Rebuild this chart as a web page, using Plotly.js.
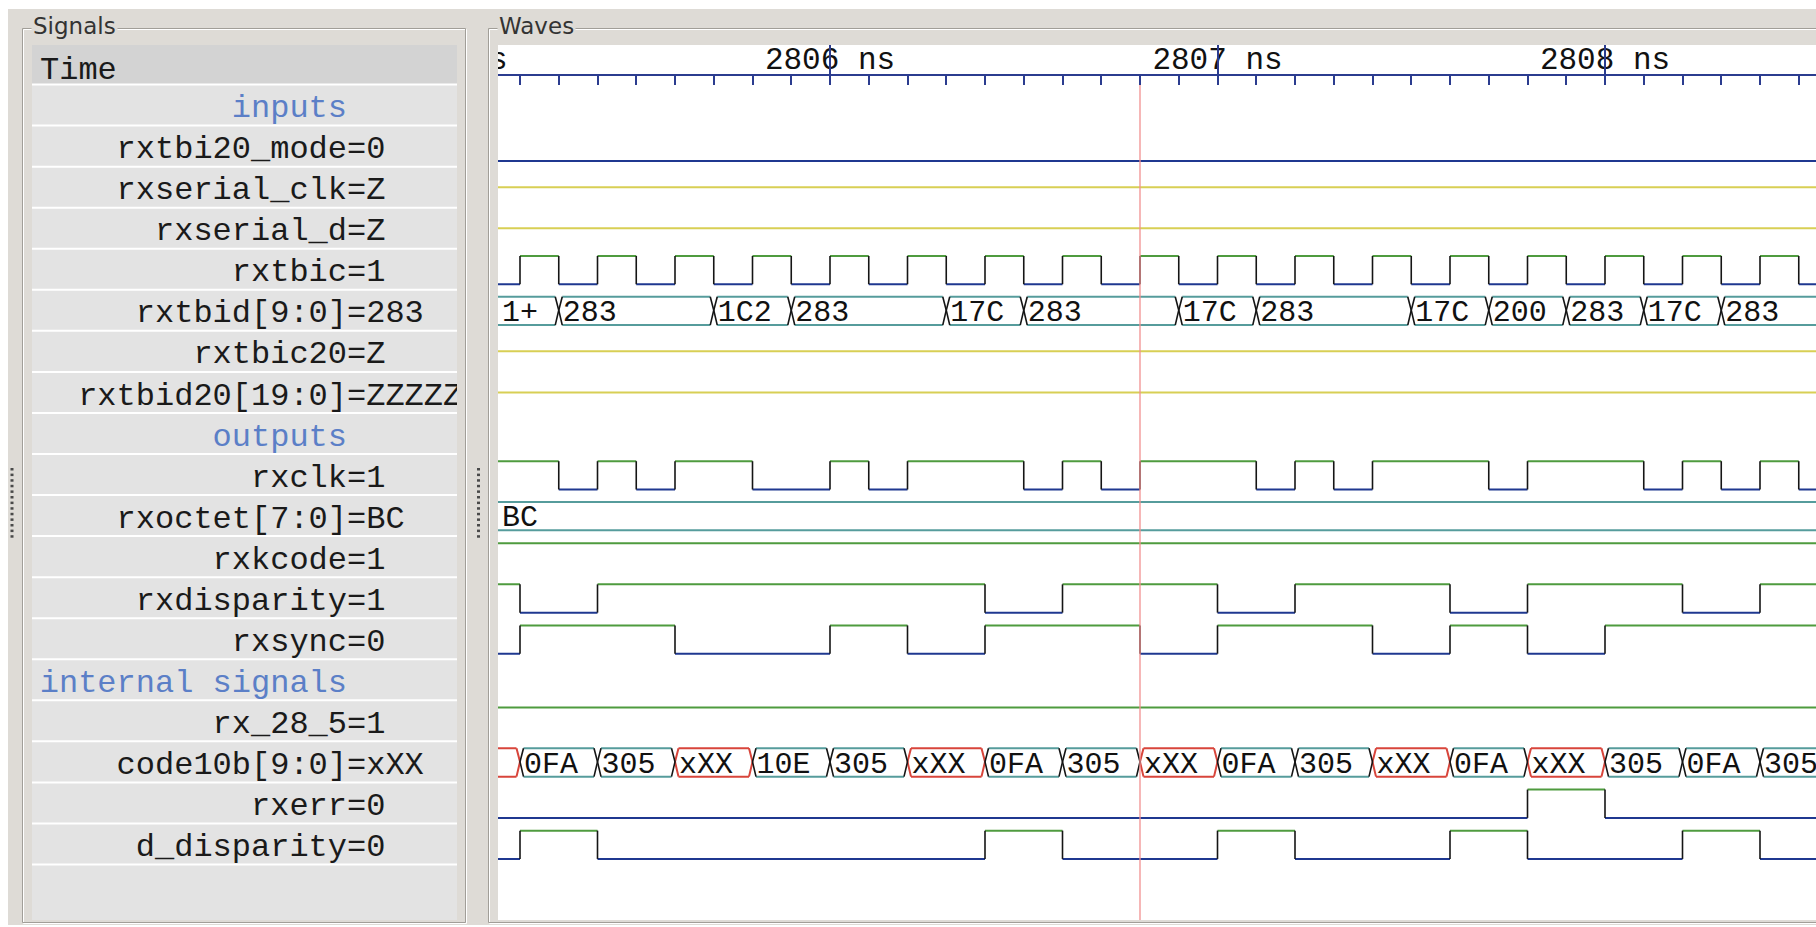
<!DOCTYPE html>
<html>
<head>
<meta charset="utf-8">
<script src="https://cdn.plot.ly/plotly-3.0.1.min.js"></script>
<style>
html,body{margin:0;padding:0;background:#dedbd6;overflow:hidden;}
#chart{width:1816px;height:927px;}
</style>
</head>
<body>
<div id="chart"></div>
<script>
// ================= DATA =================
const signalNames = ["inputs","rxtbi20_mode","rxserial_clk","rxserial_d","rxtbic","rxtbid[9:0]","rxtbic20","rxtbid20[19:0]",
  "outputs","rxclk","rxoctet[7:0]","rxkcode","rxdisparity","rxsync",
  "internal signals","rx_28_5","code10b[9:0]","rxerr","d_disparity"];
// value at the cursor (null = group header row)
const signalValues = [null,"0","Z","Z","1","283","Z","ZZZZZ",
  null,"1","BC","1","1","0",
  null,"1","xXX","0","0"];
const headerLabel = "Time";
const panelTitles = ["Signals","Waves"];

const cursorTime = 2806.8;
const rulerTickTimes = [2805, 2806, 2807, 2808];
const rulerTickLabels = ["2805 ns","2806 ns","2807 ns","2808 ns"];

// binary signals: initial level + toggle times (ns)
const rxtbi20ModeEdges = [];
const rxtbicEdges = [2805.2,2805.3,2805.4,2805.5,2805.6,2805.7,2805.8,2805.9,2806.0,2806.1,2806.2,2806.3,2806.4,2806.5,2806.6,2806.7,
  2806.8,2806.9,2807.0,2807.1,2807.2,2807.3,2807.4,2807.5,2807.6,2807.7,2807.8,2807.9,2808.0,2808.1,2808.2,2808.3,2808.4,2808.5];
const rxclkEdges = [2805.3,2805.4,2805.5,2805.6,2805.8,2806.0,2806.1,2806.2,2806.5,2806.6,2806.7,2806.8,
  2807.1,2807.2,2807.3,2807.4,2807.7,2807.8,2808.1,2808.2,2808.3,2808.4,2808.5];
const rxkcodeEdges = [];
const rxdisparityEdges = [2805.2,2805.4,2806.4,2806.6,2807.0,2807.2,2807.6,2807.8,2808.2,2808.4];
const rxsyncEdges = [2805.2,2805.6,2806.0,2806.2,2806.4,2806.8,2807.0,2807.4,2807.6,2807.8,2808.0];
const rx285Edges = [];
const rxerrEdges = [2807.8,2808.0];
const dDisparityEdges = [2805.2,2805.4,2806.4,2806.6,2807.0,2807.2,2807.6,2807.8,2808.2,2808.4];

// high-impedance signals
const zSignals = ["rxserial_clk","rxserial_d","rxtbic20","rxtbid20[19:0]"];

// buses: change times + values (first value is before the first change)
const rxtbidTimes = [2805.3,2805.7,2805.9,2806.3,2806.5,2806.9,2807.1,2807.5,2807.7,2807.9,2808.1,2808.3];
const rxtbidValues = ["1+","283","1C2","283","17C","283","17C","283","17C","200","283","17C","283"];
const rxoctetTimes = [];
const rxoctetValues = ["BC"];
const code10bTimes = [2805.2,2805.4,2805.6,2805.8,2806.0,2806.2,2806.4,2806.6,2806.8,2807.0,2807.2,2807.4,2807.6,2807.8,2808.0,2808.2,2808.4];
const code10bValues = ["xXX","0FA","305","xXX","10E","305","xXX","0FA","305","xXX","0FA","305","xXX","0FA","xXX","305","0FA","305"];

const binarySignals = [
  {name:"rxtbi20_mode", init:0, edges:rxtbi20ModeEdges},
  {name:"rxtbic", init:0, edges:rxtbicEdges},
  {name:"rxclk", init:1, edges:rxclkEdges},
  {name:"rxkcode", init:1, edges:rxkcodeEdges},
  {name:"rxdisparity", init:1, edges:rxdisparityEdges},
  {name:"rxsync", init:0, edges:rxsyncEdges},
  {name:"rx_28_5", init:1, edges:rx285Edges},
  {name:"rxerr", init:0, edges:rxerrEdges},
  {name:"d_disparity", init:0, edges:dDisparityEdges}
];
const buses = [
  {name:"rxtbid[9:0]", times:rxtbidTimes, values:rxtbidValues},
  {name:"rxoctet[7:0]", times:rxoctetTimes, values:rxoctetValues},
  {name:"code10b[9:0]", times:code10bTimes, values:code10bValues}
];

// ================= LAYOUT CONSTANTS =================
const W = 1816, H = 927;
const ROW0 = 64, ROWPX = 41.05;          // pixel of row 0 centre, row pitch
const WAVE_L = 498, T_REF = 2806, X_REF = 830, PXNS = 387.5;
const viewStart = T_REF - (X_REF - WAVE_L) / PXNS;
const viewEnd = T_REF + (W - X_REF) / PXNS;
const LIST_L = 32, LIST_R = 457, NAME_END = 347;
const MONO = "Liberation Mono, DejaVu Sans Mono, monospace";
const SANS = "DejaVu Sans, sans-serif";
const BG = "#dedbd6";
const NAVY = "#1f3890", GREEN = "#4f9b3f", YELLOW = "#d8cf55", TEAL = "#569c9c", RED = "#d8453b", EDGE = "#151515";
const RULER = "#2b3c8f", CURSOR = "#f29090", GROUP = "#5b7fc7";
const HI = -0.324, LO = 0.365, BT = -0.33, BB = 0.36;
const TY = 0.1, TY_BUS = 0.08;
const D = 3.5 / PXNS, TXT_PAD = 4, CHAR_W = 18;

const px = x => x / W;
const py = y => 1 - y / H;
const rowOf = p => (p - ROW0) / ROWPX;
const rowOfName = n => signalNames.indexOf(n) + 1;
const XL = viewStart - 0.05, XR = viewEnd + 0.05;

function addSeg(o, xs, ys) {
  for (let i = 0; i < xs.length; i++) { o.x.push(xs[i]); o.y.push(ys[i]); }
  o.x.push(null); o.y.push(null);
}
const mk = () => ({x: [], y: []});
const hiL = mk(), loL = mk(), edgeL = mk(), zL = mk(), tealL = mk(), redL = mk(), sideL = mk();
const busTxt = {x: [], y: [], text: []};

binarySignals.forEach(s => {
  const k = rowOfName(s.name);
  let v = s.init, a = XL;
  const ends = s.edges.concat([XR]);
  ends.forEach((b, i) => {
    const yy = k + (v ? HI : LO);
    addSeg(v ? hiL : loL, [a, b], [yy, yy]);
    if (i < s.edges.length) { addSeg(edgeL, [b, b], [k + HI, k + LO]); v = 1 - v; }
    a = b;
  });
});
zSignals.forEach(n => { const k = rowOfName(n); addSeg(zL, [XL, XR], [k, k]); });
buses.forEach(bus => {
  const k = rowOfName(bus.name);
  const starts = [XL].concat(bus.times), ends = bus.times.concat([XR]);
  bus.values.forEach((val, i) => {
    const a = starts[i], b = ends[i], bad = /x/i.test(val);
    const line = bad ? redL : tealL, side = bad ? redL : sideL;
    addSeg(line, [a + D, b - D], [k + BT, k + BT]);
    addSeg(line, [a + D, b - D], [k + BB, k + BB]);
    addSeg(side, [a + D, a, a + D], [k + BT, k, k + BB]);
    addSeg(side, [b - D, b, b - D], [k + BT, k, k + BB]);
    const vs = Math.max(a, viewStart);
    const open = (i === bus.values.length - 1);
    const avail = open ? Infinity : (b - vs) * PXNS - 2 * TXT_PAD;
    let label = val;
    if (val.length * CHAR_W > avail) {
      const n = Math.floor(avail / CHAR_W);
      label = n >= 2 ? val.slice(0, n - 1) + "+" : "";
    }
    if (label) { busTxt.x.push(vs + TXT_PAD / PXNS); busTxt.y.push(k + TY_BUS); busTxt.text.push(label); }
  });
});

const lineTrace = (o, color, w) => ({type: "scatter", mode: "lines", x: o.x, y: o.y, xaxis: "x", yaxis: "y",
  line: {color: color, width: w}, hoverinfo: "skip", connectgaps: false, showlegend: false});

// list texts
const nameY = [], nameT = [], valT = [], grpY = [], grpT = [];
signalNames.forEach((n, i) => {
  const k = i + 1;
  if (signalValues[i] === null) { grpY.push(k + TY); grpT.push(n); }
  else { nameY.push(k + TY); nameT.push(n); valT.push("=" + signalValues[i]); }
});

const traces = [
  lineTrace(loL, NAVY, 2),
  lineTrace(hiL, GREEN, 2),
  lineTrace(zL, YELLOW, 2),
  lineTrace(tealL, TEAL, 2),
  lineTrace(redL, RED, 2),
  lineTrace(sideL, EDGE, 1.6),
  lineTrace(edgeL, EDGE, 1.6),
  {type: "scatter", mode: "text", x: busTxt.x, y: busTxt.y, text: busTxt.text, textposition: "middle right",
   textfont: {family: MONO, size: 30, color: "#111"}, xaxis: "x", yaxis: "y", hoverinfo: "skip", showlegend: false},
  {type: "scatter", mode: "text", x: rulerTickTimes, y: rulerTickTimes.map(() => rowOf(61.5)), text: rulerTickLabels,
   textposition: "middle center", textfont: {family: MONO, size: 31, color: "#111"}, xaxis: "x", yaxis: "y",
   hoverinfo: "skip", showlegend: false},
  {type: "scatter", mode: "lines", x: [cursorTime, cursorTime], y: [rowOf(84), rowOf(920)], xaxis: "x", yaxis: "y",
   line: {color: CURSOR, width: 1.3}, hoverinfo: "skip", showlegend: false},
  {type: "scatter", mode: "markers", x: rulerTickTimes, y: rulerTickTimes.map(() => rowOf(60)), marker: {opacity: 0},
   xaxis: "x3", yaxis: "y", hoverinfo: "skip", showlegend: false},
  // signal list
  {type: "scatter", mode: "text", x: nameY.map(() => NAME_END), y: nameY, text: nameT, textposition: "middle left",
   textfont: {family: MONO, size: 32, color: "#1a1a1a"}, xaxis: "x2", yaxis: "y", hoverinfo: "skip", showlegend: false},
  {type: "scatter", mode: "text", x: nameY.map(() => NAME_END), y: nameY, text: valT, textposition: "middle right",
   textfont: {family: MONO, size: 32, color: "#1a1a1a"}, xaxis: "x2", yaxis: "y", hoverinfo: "skip", showlegend: false},
  {type: "scatter", mode: "text", x: grpY.map(() => NAME_END), y: grpY, text: grpT, textposition: "middle left",
   textfont: {family: MONO, size: 32, color: GROUP}, xaxis: "x2", yaxis: "y", hoverinfo: "skip", showlegend: false},
  {type: "scatter", mode: "text", x: [40], y: [rowOf(70.5)], text: [headerLabel], textposition: "middle right",
   textfont: {family: MONO, size: 32, color: "#1a1a1a"}, xaxis: "x2", yaxis: "y", hoverinfo: "skip", showlegend: false}
];

// ---- chrome shapes ----
const shapes = [];
const rectPx = (x0, y0, x1, y1, o) => Object.assign({type: "rect", xref: "paper", yref: "paper",
  x0: px(x0), x1: px(x1), y0: py(y1), y1: py(y0), layer: "below", line: {width: 0}}, o);
shapes.push(rectPx(0, 0, W, 9, {fillcolor: "#ffffff"}));
shapes.push(rectPx(0, 0, 8, H, {fillcolor: "#ffffff"}));
shapes.push(rectPx(0, 925, W, H, {fillcolor: "#ffffff"}));
// etched frames
shapes.push(rectPx(23.5, 29.5, 466.5, 923.5, {line: {color: "#ffffff", width: 1}}));
shapes.push(rectPx(22.5, 28.5, 465.5, 922.5, {line: {color: "#a19e98", width: 1}}));
shapes.push(rectPx(489.5, 29.5, W + 6, 923.5, {line: {color: "#ffffff", width: 1}}));
shapes.push(rectPx(488.5, 28.5, W + 5, 922.5, {line: {color: "#a19e98", width: 1}}));
// list panel
shapes.push(rectPx(LIST_L, 45, LIST_R, 920, {fillcolor: "#e3e3e3"}));
shapes.push(rectPx(LIST_L, 45, LIST_R, 84, {fillcolor: "#d3d3d3"}));
// wave panel
shapes.push(rectPx(WAVE_L, 45, W, 920, {fillcolor: "#ffffff"}));
// grips
for (let i = 0; i < 13; i++) {
  const y = 468 + 5.6 * i;
  shapes.push(rectPx(10.5, y, 13.5, y + 2.5, {fillcolor: "#4a4a4a"}));
  shapes.push(rectPx(477, y, 480, y + 2.5, {fillcolor: "#4a4a4a"}));
}
// row separators (list coordinates)
for (let k = 0; k <= signalNames.length; k++) {
  shapes.push({type: "line", xref: "x2", yref: "y", x0: LIST_L, x1: LIST_R, y0: k + 0.5, y1: k + 0.5,
    layer: "below", line: {color: "#ffffff", width: 2}});
}

const annotations = [
  {text: panelTitles[0], x: px(31), y: py(26), xref: "paper", yref: "paper", xanchor: "left", yanchor: "middle",
   showarrow: false, bgcolor: BG, borderpad: 1, font: {family: SANS, size: 23, color: "#333"}},
  {text: panelTitles[1], x: px(497), y: py(26), xref: "paper", yref: "paper", xanchor: "left", yanchor: "middle",
   showarrow: false, bgcolor: BG, borderpad: 1, font: {family: SANS, size: 23, color: "#333"}}
];

const rulerPos = py(75);
const layout = {
  width: W, height: H, margin: {l: 0, r: 0, t: 0, b: 0, pad: 0},
  paper_bgcolor: BG, plot_bgcolor: "rgba(0,0,0,0)", showlegend: false, hovermode: false,
  font: {family: MONO},
  xaxis: {domain: [WAVE_L / W, 1], range: [viewStart, viewEnd], anchor: "free", position: rulerPos, side: "top",
    showline: true, linecolor: RULER, linewidth: 2, ticks: "inside", ticklen: 9, tickwidth: 2, tickcolor: RULER,
    tick0: 2805, dtick: 1, showticklabels: false, showgrid: false, zeroline: false, fixedrange: true,
    minor: {tick0: 2805, dtick: 0.1, ticks: "inside", ticklen: 9, tickwidth: 2, tickcolor: RULER, showgrid: false}},
  xaxis3: {overlaying: "x", domain: [WAVE_L / W, 1], range: [viewStart, viewEnd], anchor: "free", position: rulerPos,
    side: "top", showline: false, ticks: "outside", ticklen: 30, tickwidth: 2, tickcolor: RULER,
    tick0: 2805, dtick: 1, showticklabels: false, showgrid: false, zeroline: false, fixedrange: true},
  xaxis2: {domain: [LIST_L / W, LIST_R / W], range: [LIST_L, LIST_R], anchor: "y", visible: false, fixedrange: true},
  yaxis: {domain: [0, 1], range: [(H - ROW0) / ROWPX, -ROW0 / ROWPX], anchor: "x", visible: false,
    showgrid: false, zeroline: false, fixedrange: true},
  shapes: shapes,
  annotations: annotations
};

Plotly.newPlot("chart", traces, layout, {staticPlot: true, displayModeBar: false});
</script>
</body>
</html>
